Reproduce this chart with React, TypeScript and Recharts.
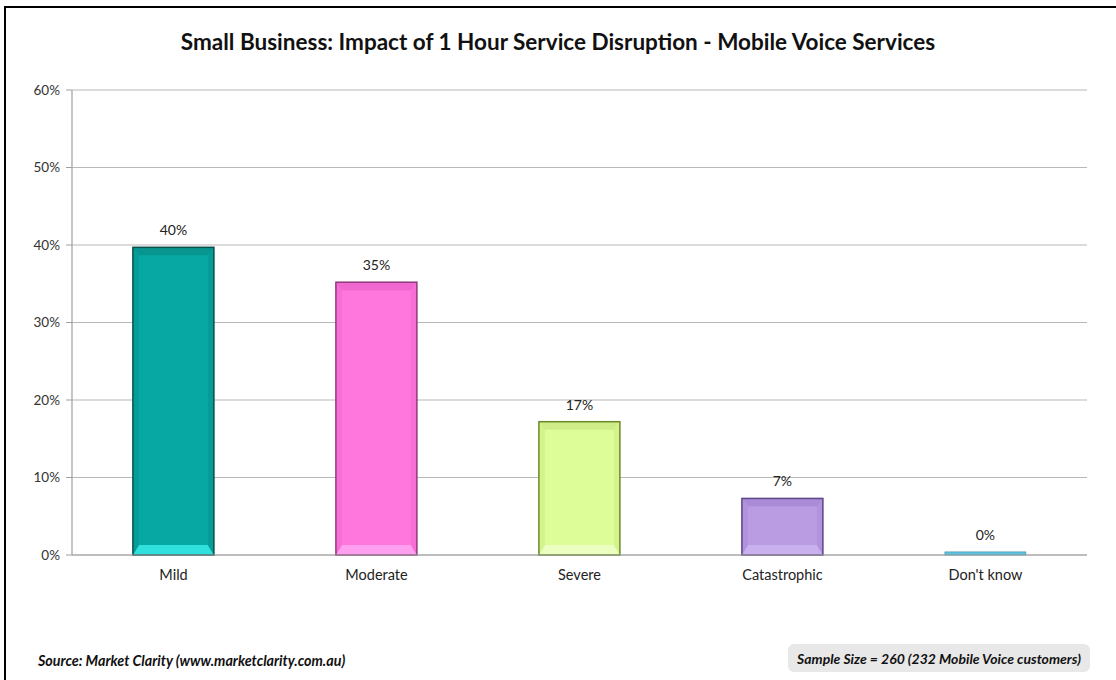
import { BarChart, Bar, XAxis, YAxis, CartesianGrid, LabelList } from 'recharts';

const categories = ['Mild', 'Moderate', 'Severe', 'Catastrophic', "Don't know"];
const shares = [39.7, 35.2, 17.2, 7.3, 0.4];
const yTicks = [0, 10, 20, 30, 40, 50, 60];
const boundaryTicks = [0, 1, 2, 3, 4, 5];

// base / top bevel / bottom bevel / side / outline
const palettes = [
  { base: '#07a7a3', top: '#08948f', bottom: '#2fe0dc', side: '#069d99', edge: '#0b4f4d' },
  { base: '#ff77dd', top: '#f068cf', bottom: '#ff9ff0', side: '#f86ed6', edge: '#8e3b7a' },
  { base: '#dcfd98', top: '#d0ec88', bottom: '#ecffc0', side: '#d3f38e', edge: '#6c8a28' },
  { base: '#b99ce2', top: '#aa8bd7', bottom: '#c9b0ee', side: '#b093dc', edge: '#5e4687' },
  { base: '#5ec3e0', top: '#4fb0cd', bottom: '#7dd6ef', side: '#56bbd8', edge: '#3a8aa0' },
];

const data = categories.map((name, i) => ({ name, value: shares[i] }));

function BevelBar(props: any) {
  const { x, y, width: w, height: h, payload } = props;
  const p = palettes[categories.indexOf(payload?.name)] || palettes[0];
  if (h < 20) {
    return <rect x={x} y={y} width={w} height={h} fill={p.base} stroke={p.edge} strokeWidth={0.6} />;
  }
  const t = 8;
  const b = 10;
  const s = 6;
  return (
    <g>
      <rect x={x} y={y} width={w} height={h} fill={p.base} />
      <polygon points={`${x},${y} ${x + w},${y} ${x + w - s},${y + t} ${x + s},${y + t}`} fill={p.top} />
      <polygon points={`${x},${y + h} ${x + w},${y + h} ${x + w - s},${y + h - b} ${x + s},${y + h - b}`} fill={p.bottom} />
      <polygon points={`${x},${y} ${x + s},${y + t} ${x + s},${y + h - b} ${x},${y + h}`} fill={p.side} />
      <polygon points={`${x + w},${y} ${x + w - s},${y + t} ${x + w - s},${y + h - b} ${x + w},${y + h}`} fill={p.side} />
      <rect x={x} y={y} width={w} height={h} fill="none" stroke={p.edge} strokeWidth={1.5} />
    </g>
  );
}

const font = 'Lato, "Open Sans", sans-serif';

export default function App() {
  return (
    <div style={{ position: 'absolute', left: 0, top: 0, width: 1116, height: 680, overflow: 'hidden', background: '#fff', fontFamily: font }}>
      <div style={{ position: 'absolute', left: 4, top: 6, width: 1200, height: 720, border: '2px solid #000', boxSizing: 'border-box' }} />
      <div style={{ position: 'absolute', left: 0, width: 1116, top: 28, textAlign: 'center', fontSize: 22.5, fontWeight: 700, color: '#111' }}>
        Small Business: Impact of 1 Hour Service Disruption - Mobile Voice Services
      </div>

      <div style={{ position: 'absolute', left: 0, top: 0 }}>
        <BarChart width={1116} height={680} data={data} margin={{ top: 90, right: 29, left: 0, bottom: 95 }} barCategoryGap="30%">
          <CartesianGrid vertical={false} stroke="#b8b8b8" strokeWidth={1.2} />
          <XAxis
            xAxisId="bounds"
            type="number"
            domain={[0, 5]}
            ticks={boundaryTicks}
            height={0}
            axisLine={false}
            tickLine={{ stroke: '#a0a0a0' }}
            tickSize={6}
            tickFormatter={() => ''}
          />
          <XAxis
            dataKey="name"
            axisLine={{ stroke: '#a0a0a0', strokeWidth: 1.2 }}
            tickLine={false}
            tickSize={0}
            tickMargin={15}
            height={30}
            tick={{ fontSize: 14.5, fill: '#222', fontFamily: font }}
          />
          <YAxis
            width={72}
            domain={[0, 60]}
            ticks={yTicks}
            tickFormatter={(v) => `${v}%`}
            axisLine={{ stroke: '#a0a0a0', strokeWidth: 1.2 }}
            tickLine={{ stroke: '#a0a0a0' }}
            tickSize={6}
            tickMargin={6}
            tick={{ fontSize: 13.5, fill: '#333', fontFamily: font }}
          />
          <Bar dataKey="value" shape={BevelBar} isAnimationActive={false}>
            <LabelList
              dataKey="value"
              position="top"
              offset={12}
              formatter={(v: any) => `${Math.round(Number(v))}%`}
              style={{ fontSize: 14, fill: '#222', fontFamily: font }}
            />
          </Bar>
        </BarChart>
      </div>

      <div style={{ position: 'absolute', left: 38, top: 652, fontSize: 14.3, fontWeight: 700, fontStyle: 'italic', color: '#111' }}>
        Source: Market Clarity (www.marketclarity.com.au)
      </div>
      <div
        style={{
          position: 'absolute',
          left: 788,
          top: 644,
          width: 302,
          height: 28,
          borderRadius: 6,
          background: '#e8e8e8',
          fontSize: 14,
          fontWeight: 700,
          fontStyle: 'italic',
          color: '#111',
          display: 'flex',
          alignItems: 'center',
          justifyContent: 'center',
          whiteSpace: 'nowrap',
        }}
      >
        Sample Size = 260 (232 Mobile Voice customers)
      </div>
    </div>
  );
}
